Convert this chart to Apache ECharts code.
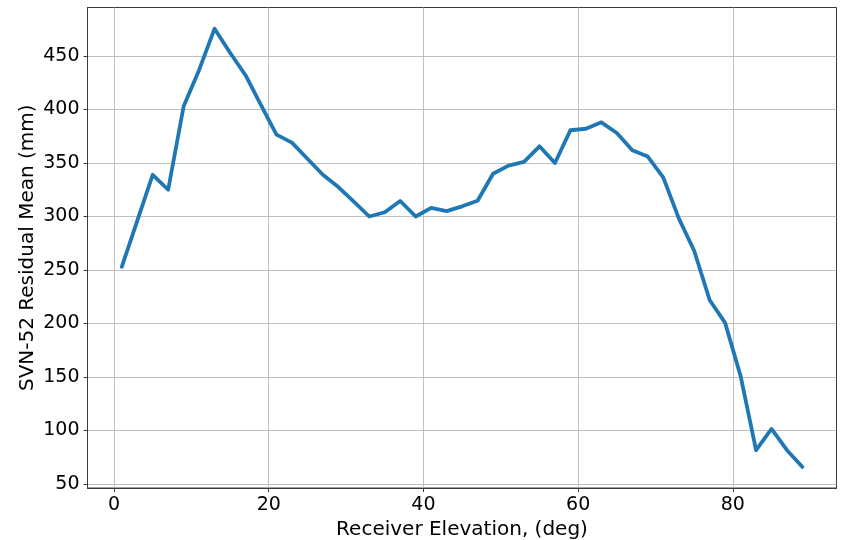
<!DOCTYPE html>
<html>
<head>
<meta charset="utf-8">
<script src="https://cdn.jsdelivr.net/npm/echarts@6/dist/echarts.min.js"></script>
<style>
  html, body { margin: 0; padding: 0; background: #fff; }
  #chart { width: 842px; height: 540px; }
</style>
</head>
<body>
<div id="chart"></div>
<script>
// Receiver elevation bins (deg)
const elevation = [1, 3, 5, 7, 9, 11, 13, 15, 17, 19, 21, 23, 25, 27, 29, 31, 33, 35, 37, 39, 41, 43, 45,
  47, 49, 51, 53, 55, 57, 59, 61, 63, 65, 67, 69, 71, 73, 75, 77, 79, 81, 83, 85, 87, 89];
// SVN-52 residual mean per bin (mm)
const residualMean = [253, 296, 339, 325, 403, 437, 475.5, 453, 432, 404, 376.5, 369, 354, 339, 327.5, 314, 300,
  304, 314.5, 300, 308, 305, 309.5, 314.7, 340, 347.5, 351, 365.6, 350, 380.6, 382, 388, 378, 362, 356,
  336.6, 298.5, 268, 222, 200.6, 151, 81.6, 101.5, 81.6, 66];

const xTicks = [0, 20, 40, 60, 80];
const yTicks = [50, 100, 150, 200, 250, 300, 350, 400, 450];

const font = 'DejaVu Sans';
const frameColor = '#3a3a3a';
const gridColor = '#b8b8b8';
const chart = echarts.init(document.getElementById('chart'));

chart.setOption({
  animation: false,
  backgroundColor: '#ffffff',
  grid: {
    left: 87.5, right: 5.5, top: 7.5, bottom: 52,
    containLabel: false,
    outerBoundsMode: 'none',
    show: true, borderColor: frameColor, borderWidth: 1
  },
  xAxis: {
    type: 'value',
    min: -3.43, max: 93.4,
    name: 'Receiver Elevation, (deg)',
    nameLocation: 'middle', nameGap: 30,
    nameTextStyle: { fontFamily: font, fontSize: 20, color: '#000' },
    axisLine: { show: true, onZero: false, lineStyle: { color: frameColor, width: 1 } },
    axisTick: { show: true, length: 4, customValues: xTicks, lineStyle: { color: frameColor } },
    axisLabel: { fontFamily: font, fontSize: 19, color: '#000', margin: 8, customValues: xTicks },
    splitLine: { show: true, lineStyle: { color: gridColor, width: 0.9 } }
  },
  yAxis: {
    type: 'value',
    min: 46.3, max: 495.3,
    name: 'SVN-52 Residual Mean (mm)',
    nameLocation: 'middle', nameGap: 50, nameRotate: 90,
    nameMoveOverlap: false,
    nameTextStyle: { fontFamily: font, fontSize: 20, color: '#000' },
    axisLine: { show: true, onZero: false, lineStyle: { color: frameColor, width: 1 } },
    axisTick: { show: true, length: 4, customValues: yTicks, lineStyle: { color: frameColor } },
    axisLabel: { fontFamily: font, fontSize: 19, color: '#000', margin: 8, customValues: yTicks },
    splitLine: { show: true, lineStyle: { color: gridColor, width: 0.9 } }
  },
  series: [{
    type: 'line',
    data: elevation.map((e, i) => [e, residualMean[i]]),
    showSymbol: false,
    lineStyle: { color: '#1f77b4', width: 3.8, join: 'round', cap: 'round' },
    itemStyle: { color: '#1f77b4' }
  }]
});
</script>
</body>
</html>
